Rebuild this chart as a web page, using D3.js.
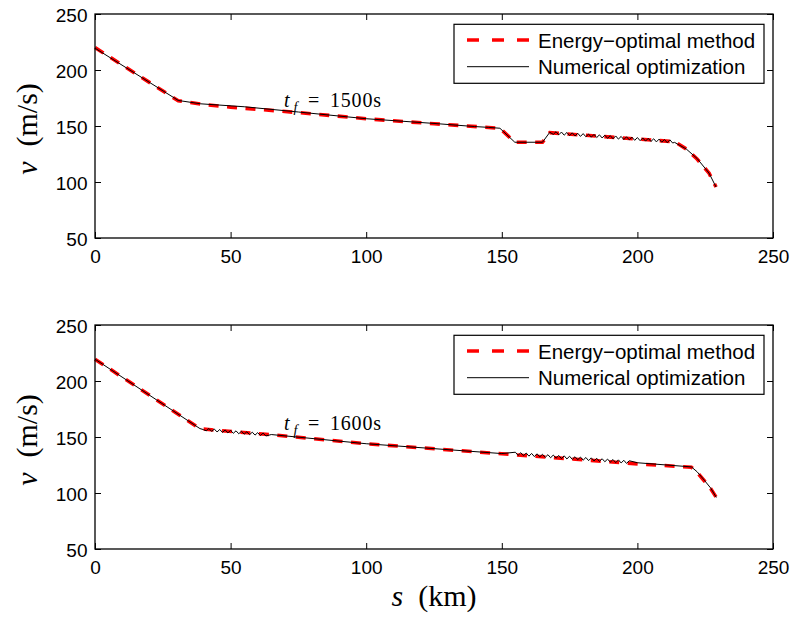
<!DOCTYPE html>
<html>
<head>
<meta charset="utf-8">
<script src="https://cdn.jsdelivr.net/npm/d3@7"></script>
<style>
  body { margin: 0; background: #fff; }
  svg { display: block; }
</style>
</head>
<body>
<svg id="chart" width="791" height="617"></svg>
<script>
// ---- data ----
const xTicks = [0, 50, 100, 150, 200, 250];
const yTicks = [50, 100, 150, 200, 250];
const seriesNames = ["Energy\u2212optimal method", "Numerical optimization"];
const finalTimes = ["1500s", "1600s"];
const notePos = [[69.7, 167.2], [69.7, 156.2]]; // s, v of the t_f label

// t_f = 1500 s
const sTopOpt = [0, 30.7, 40, 50, 75, 100, 125, 149.3, 154.8, 165, 167.7, 213.7, 218, 222, 226.4, 229];
const vTopOpt = [220, 172.5, 169.3, 166.8, 162, 156.5, 152, 148, 135.5, 135.5, 144, 136, 129.5, 120.5, 108, 95.5];

const sTopNum = [0, 30.7, 39, 55, 75, 100, 125, 140, 145, 149.3, 154.8, 165, 167.7,
  169, 170, 171, 172, 173, 174, 175, 176, 177, 178, 179, 180, 181, 182, 183, 184, 185,
  186, 187, 188, 189, 190, 191, 192, 193, 194, 195, 196, 197, 198, 199, 200, 201, 202,
  203, 204, 205, 206, 207, 208, 209, 210, 211, 212, 213,
  213.7, 218, 222, 226.4, 229];
const vTopNum = [219.5, 172.8, 169.8, 167.2, 162.5, 156.5, 152.3, 149.5, 148.8, 148, 135.5, 135.5, 144.4,
  142.5, 144.9, 142.1, 144.6, 141.8, 144.2, 141.4, 143.9, 141.1, 143.5, 140.7, 143.2, 140.4, 142.8, 140.0, 142.5, 139.7,
  142.1, 139.3, 141.8, 139.0, 141.4, 138.6, 141.1, 138.3, 140.7, 137.9, 140.4, 137.6, 140.0, 137.2, 139.7, 136.9, 139.3,
  136.5, 139.0, 136.2, 138.6, 135.8, 138.3, 135.5, 137.9, 135.1, 137.6, 134.8,
  135.4, 129.5, 121, 108, 95.5];

// t_f = 1600 s
const sBotOpt = [0, 38.7, 45, 65, 100, 150, 175, 200, 219.9, 222, 224.8, 227, 229.1];
const vBotOpt = [219.5, 157.5, 156, 152, 144, 135, 130.5, 126, 123, 118.5, 110.5, 104, 96];

const sBotNum = [0, 38.7, 40,
  41, 42, 43, 44, 45, 46, 47, 48, 49, 50, 51, 52, 53, 54, 55, 56, 57, 58, 59, 60, 61, 62, 63,
  65, 100, 150,
  155, 156, 157, 158, 159, 160, 161, 162, 163, 164, 165, 166, 167, 168, 169, 170, 171, 172,
  173, 174, 175, 176, 177, 178, 179, 180, 181, 182, 183, 184, 185, 186, 187, 188, 189, 190,
  191, 192, 193, 194, 195, 196, 197,
  200, 219.9, 222, 224.8, 227, 229.1];
const vBotNum = [219.5, 157.5, 156.6,
  155.5, 157.6, 155.0, 157.1, 154.5, 156.7, 154.1, 156.3, 153.7, 155.9, 153.3, 155.5, 152.9, 155.1, 152.5, 154.7, 152.1, 154.3, 151.7, 153.9, 151.3, 153.5, 150.9,
  152.2, 144, 135.2,
  136.4, 133.6, 136.0, 133.3, 135.7, 132.9, 135.3, 132.5, 135.0, 132.2, 134.6, 131.8, 134.2, 131.5, 133.9, 131.1, 133.5, 130.7,
  133.2, 130.4, 132.8, 130.0, 132.4, 129.7, 132.1, 129.3, 131.7, 128.9, 131.4, 128.6, 131.0, 128.2, 130.6, 127.9, 130.3, 127.5,
  129.9, 127.1, 129.6, 126.8, 129.2, 126.4, 128.8,
  127, 123.3, 119, 111, 104.5, 96];

// ---- layout ----
const svg = d3.select("#chart");
const left = 95, right = 773;
const panels = [
  { top: 14, bottom: 238, opt: [sTopOpt, vTopOpt], num: [sTopNum, vTopNum], tf: finalTimes[0], note: notePos[0] },
  { top: 325, bottom: 549, opt: [sBotOpt, vBotOpt], num: [sBotNum, vBotNum], tf: finalTimes[1], note: notePos[1] }
];

const x = d3.scaleLinear().domain([0, 250]).range([left, right]);
const sans = "'Liberation Sans', Arial, Helvetica, sans-serif";
const serif = "'Liberation Serif', 'Times New Roman', serif";

function pairs(s, v) { return s.map((d, i) => [d, v[i]]); }

panels.forEach((p) => {
  const y = d3.scaleLinear().domain([50, 250]).range([p.bottom, p.top]);
  const g = svg.append("g");

  const line = d3.line().x((d) => x(d[0])).y((d) => y(d[1]));

  // axes, ticks pointing inward
  const ax = g.append("g").attr("transform", `translate(0,${p.bottom})`)
    .call(d3.axisBottom(x).tickValues(xTicks).tickSizeInner(-6).tickSizeOuter(0).tickPadding(11.5));
  const ay = g.append("g").attr("transform", `translate(${left},0)`)
    .call(d3.axisLeft(y).tickValues(yTicks).tickSizeInner(-6).tickSizeOuter(0).tickPadding(7.5));
  const at = g.append("g").attr("transform", `translate(0,${p.top})`)
    .call(d3.axisTop(x).tickValues(xTicks).tickSizeInner(-6).tickSizeOuter(0).tickFormat(""));
  const ar = g.append("g").attr("transform", `translate(${right},0)`)
    .call(d3.axisRight(y).tickValues(yTicks).tickSizeInner(-6).tickSizeOuter(0).tickFormat(""));

  [ax, ay, at, ar].forEach((a) => {
    a.select(".domain").remove();
    a.selectAll(".tick line").attr("stroke", "#000").attr("stroke-width", 1);
    a.selectAll(".tick text")
      .attr("fill", "#000")
      .style("font-family", sans)
      .style("font-size", "19px");
  });
  ay.selectAll(".tick text").attr("dy", "0.42em");

  // series
  g.append("path")
    .datum(pairs(p.opt[0], p.opt[1]))
    .attr("d", line)
    .attr("fill", "none")
    .attr("stroke", "#ff0000")
    .attr("stroke-width", 3.6)
    .attr("stroke-dasharray", "10,8.5");

  g.append("path")
    .datum(pairs(p.num[0], p.num[1]))
    .attr("d", line)
    .attr("fill", "none")
    .attr("stroke", "#000")
    .attr("stroke-width", 1)
    .attr("stroke-linejoin", "round");

  // frame
  g.append("rect")
    .attr("x", left).attr("y", p.top)
    .attr("width", right - left).attr("height", p.bottom - p.top)
    .attr("fill", "none").attr("stroke", "#000").attr("stroke-width", 1.3);

  // t_f note
  const nx = x(p.note[0]), ny = y(p.note[1]);
  const note = g.append("text")
    .attr("x", nx).attr("y", ny)
    .style("font-family", serif)
    .style("font-size", "20px")
    .attr("fill", "#000");
  note.append("tspan").attr("font-style", "italic").text("t");
  note.append("tspan").attr("x", nx + 9.5).attr("dy", 5).attr("font-style", "italic").style("font-size", "14px").text("f");
  note.append("tspan").attr("x", nx + 24).attr("dy", -5).text("=");
  note.append("tspan").attr("x", nx + 46).attr("letter-spacing", "0.8px").text(p.tf);

  // y label
  g.append("text")
    .attr("transform", `translate(37,${(p.top + p.bottom) / 2 + 3}) rotate(-90)`)
    .attr("text-anchor", "middle")
    .style("font-family", serif)
    .style("font-size", "30px")
    .attr("fill", "#000")
    .call((t) => {
      t.append("tspan").attr("font-style", "italic").text("v");
      t.append("tspan").text("\u2002(m/s)");
    });

  // legend
  const lx = 454, ly = p.top + 10.3, lw = 310, lh = 59;
  const lg = g.append("g");
  lg.append("rect").attr("x", lx).attr("y", ly).attr("width", lw).attr("height", lh)
    .attr("fill", "#fff").attr("stroke", "#000").attr("stroke-width", 1.2);
  lg.append("line").attr("x1", lx + 13).attr("x2", lx + 75)
    .attr("y1", ly + 15.7).attr("y2", ly + 15.7)
    .attr("stroke", "#ff0000").attr("stroke-width", 3.6).attr("stroke-dasharray", "12,13");
  lg.append("line").attr("x1", lx + 13).attr("x2", lx + 75)
    .attr("y1", ly + 42.4).attr("y2", ly + 42.4)
    .attr("stroke", "#000").attr("stroke-width", 1);
  seriesNames.forEach((name, i) => {
    lg.append("text")
      .attr("x", lx + 84).attr("y", ly + 24 + i * 26)
      .style("font-family", sans).style("font-size", "20.5px")
      .attr("fill", "#000")
      .text(name);
  });
});

// x label
svg.append("text")
  .attr("x", (left + right) / 2).attr("y", 606)
  .attr("text-anchor", "middle")
  .style("font-family", serif)
  .style("font-size", "30px")
  .attr("fill", "#000")
  .call((t) => {
    t.append("tspan").attr("font-style", "italic").text("s");
    t.append("tspan").text("\u2002(km)");
  });
</script>
</body>
</html>
